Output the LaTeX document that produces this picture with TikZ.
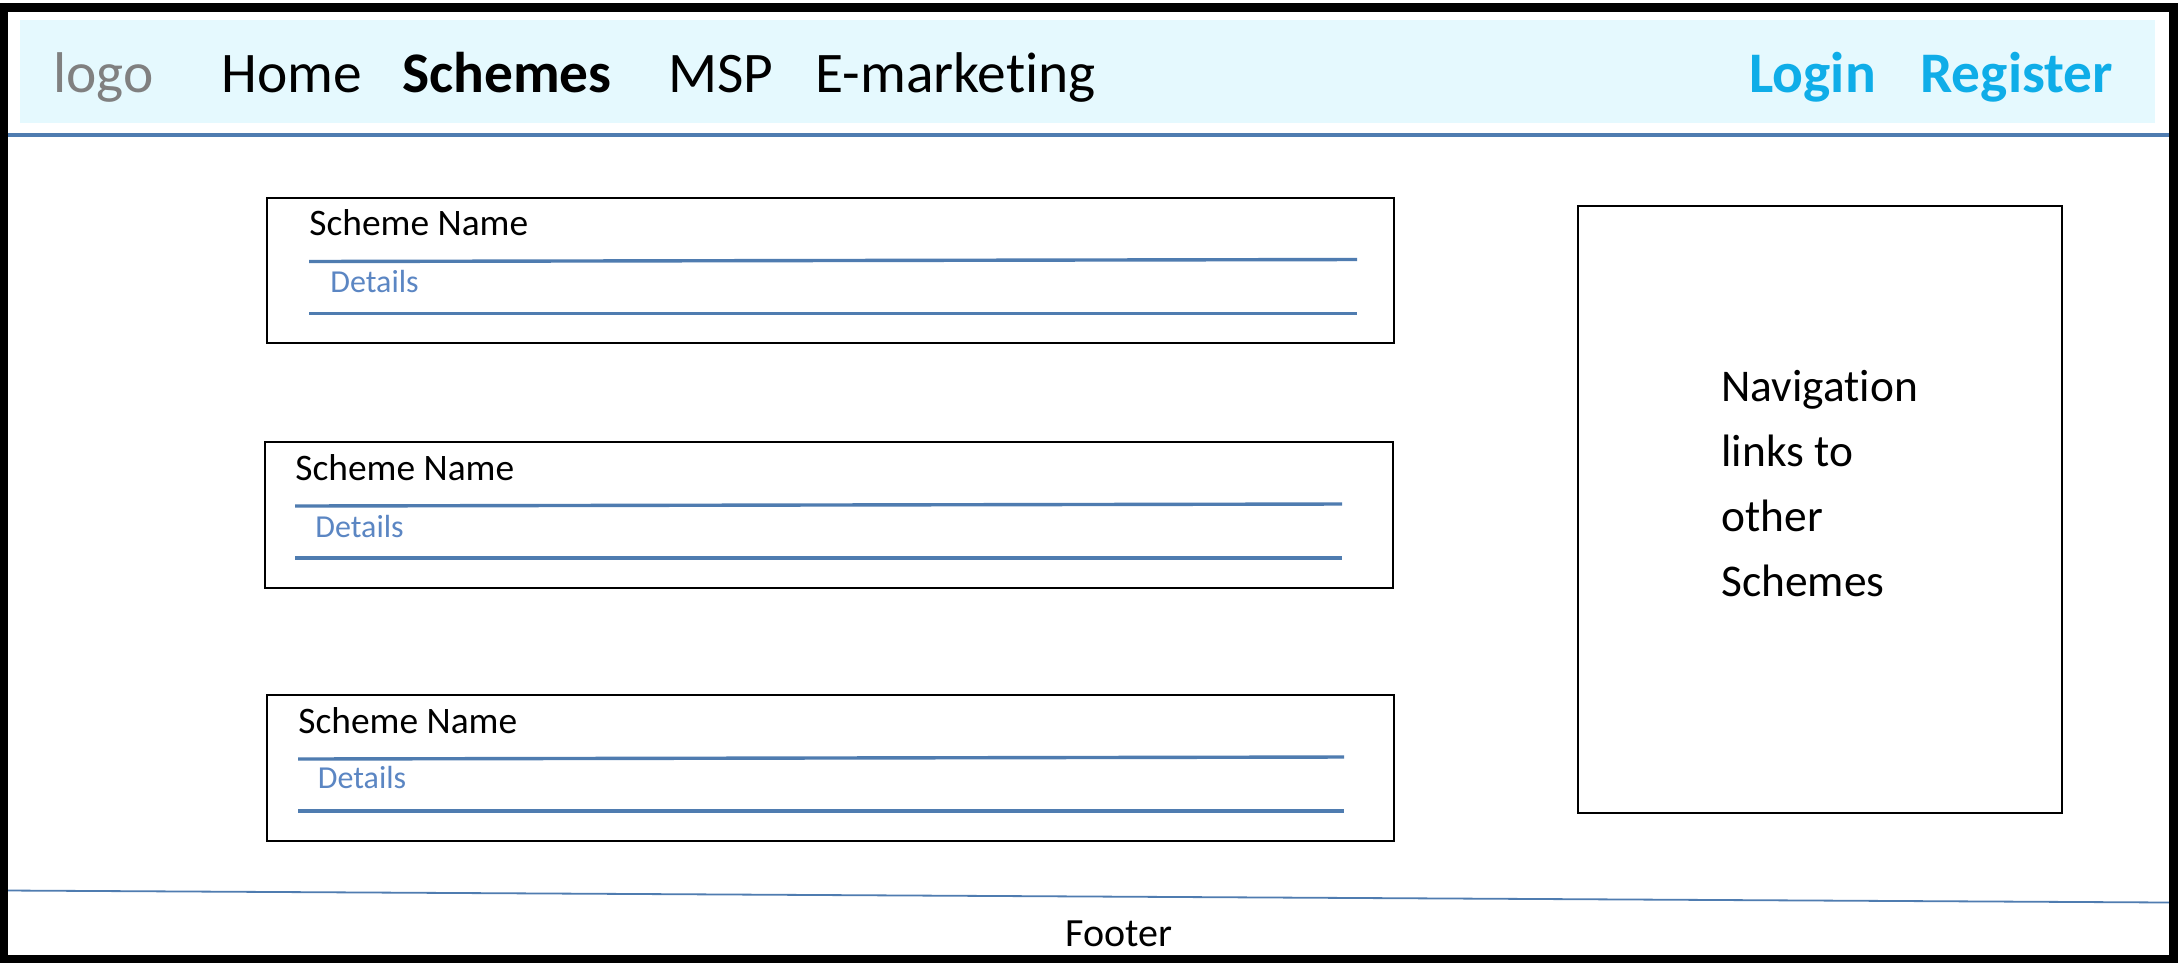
\documentclass[tikz,border=0pt]{standalone}
\usepackage{fontspec}
\setmainfont{Carlito}[Ligatures={NoCommon}]
\definecolor{hdrfill}{HTML}{E5F9FE}
\definecolor{lineblue}{HTML}{4F7CB0}
\definecolor{detblue}{HTML}{5B86C3}
\definecolor{loginblue}{HTML}{0FADE8}
\definecolor{logogray}{HTML}{808080}
\tikzset{
  txt/.style={inner sep=0pt, anchor=base west},
  hdr/.style={txt, font=\fontsize{28.7}{34}\selectfont},
  hdrbold/.style={txt, font=\fontsize{28.7}{34}\selectfont\bfseries},
  sname/.style={txt, font=\fontsize{18.7}{22}\selectfont},
  det/.style={txt, font=\fontsize{16}{19}\selectfont, text=detblue},
  navtxt/.style={txt, font=\fontsize{22.7}{27}\selectfont},
  card/.style={draw=black, line width=0.85pt, inner sep=0pt, anchor=north west},
  rulel/.style={draw=lineblue, line width=1.7pt},
}
\begin{document}
\begin{tikzpicture}[x=0.5pt,y=-0.5pt]
\useasboundingbox (0,0) rectangle (2178,966);
\fill[white] (0,0) rectangle (2178,966);
% header band
\fill[hdrfill] (20,20) rectangle (2155,123);
\draw[draw=lineblue, line width=2pt] (7,134.5) -- (2172,134.5);
% header texts
\node[hdr, text=logogray] (logo) at (53,92.5) {logo};
\node[hdr] (home) at (221,92.5) {Home};
\node[hdrbold] (schemes) at (402,92.5) {Schemes};
\node[hdr] (msp) at (668,92.5) {MSP};
\node[hdr] (emkt) at (815,92.5) {E-marketing};
\node[hdrbold, text=loginblue] (login) at (1749,92.5) {Login};
\node[hdrbold, text=loginblue] (register) at (1920,92.5) {Register};
% scheme cards
\node[card, minimum width=563.5pt, minimum height=72.5pt] (box1) at (266,197) {};
\node[sname] (sn1) at (309,235) {Scheme Name};
\draw[rulel] (309,261.5) -- (1357,259.5);
\node[det] (d1) at (330,292) {Details};
\draw[rulel] (309,313.5) -- (1357,313.5);

\node[card, minimum width=564pt, minimum height=73pt] (box2) at (264,441) {};
\node[sname] (sn2) at (295,480) {Scheme Name};
\draw[rulel] (295,506) -- (1342,504);
\node[det] (d2) at (315,537) {Details};
\draw[rulel] (295,558) -- (1342,558);

\node[card, minimum width=563.5pt, minimum height=73pt] (box3) at (266,694) {};
\node[sname] (sn3) at (298,733) {Scheme Name};
\draw[rulel] (298,759) -- (1344,757);
\node[det] (d3) at (317.5,788) {Details};
\draw[rulel] (298,811) -- (1344,811);
% navigation box
\node[card, minimum width=242pt, minimum height=303.5pt] (nav) at (1577,205) {};
\node[navtxt] (nav1) at (1721,401) {Navigation};
\node[navtxt] (nav2) at (1721,466) {links to};
\node[navtxt] (nav3) at (1721,531) {other};
\node[navtxt] (nav4) at (1721,596) {Schemes};
% footer
\draw[draw=lineblue, line width=0.9pt] (7,890.5) -- (2170,902.5);
\node[txt, anchor=base, font=\fontsize{20}{24}\selectfont] (footer) at (1119,946) {Footer};
% outer frame
\draw[black, line width=4.2pt] (3.5,7.5) rectangle (2173.5,959);
\end{tikzpicture}
\end{document}
